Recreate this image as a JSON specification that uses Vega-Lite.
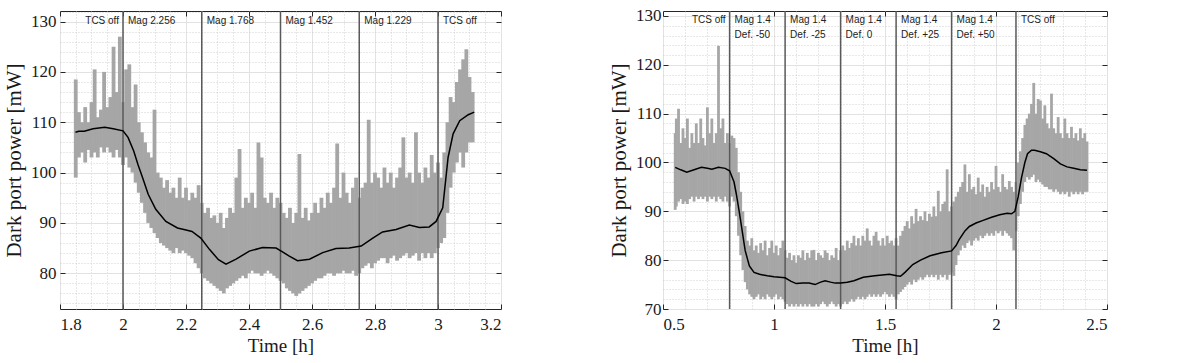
{
"$schema":"https://vega.github.io/schema/vega-lite/v6.json",
"padding":{"left":3,"top":6,"right":0,"bottom":0},
"background":"white",
"spacing":106,
"config":{"view":{"stroke":"#262626","strokeWidth":1},
"axis":{"domain":false,"labelFont":"Liberation Serif","labelFontSize":17,"labelColor":"#1a1a1a","titleFont":"Liberation Serif","titleFontSize":19,"titleFontWeight":"normal","titleColor":"#1a1a1a","tickColor":"#262626","format":".4~g"},
"text":{"font":"Liberation Sans","fontSize":10,"color":"#222"}},
"datasets":{
"Lg":[{"t":1.85,"lo":99,"hi":118.5},{"t":1.86,"lo":103,"hi":112},{"t":1.87,"lo":104,"hi":110},{"t":1.88,"lo":102,"hi":113},{"t":1.89,"lo":104.5,"hi":110},{"t":1.9,"lo":103,"hi":114},{"t":1.91,"lo":104,"hi":120.5},{"t":1.92,"lo":103,"hi":111},{"t":1.93,"lo":105,"hi":112.5},{"t":1.94,"lo":104,"hi":120},{"t":1.95,"lo":105,"hi":113},{"t":1.96,"lo":104,"hi":115},{"t":1.97,"lo":103,"hi":125},{"t":1.98,"lo":104.5,"hi":116},{"t":1.99,"lo":103,"hi":127},{"t":2.0,"lo":101.5,"hi":114},{"t":2.01,"lo":103,"hi":120.5},{"t":2.02,"lo":101,"hi":121.5},{"t":2.03,"lo":100,"hi":113},{"t":2.04,"lo":98,"hi":117.5},{"t":2.05,"lo":96,"hi":110},{"t":2.06,"lo":94,"hi":108},{"t":2.07,"lo":92,"hi":106},{"t":2.08,"lo":90,"hi":104},{"t":2.09,"lo":89,"hi":103},{"t":2.1,"lo":88,"hi":112.5},{"t":2.11,"lo":87,"hi":100},{"t":2.12,"lo":86,"hi":99},{"t":2.13,"lo":85.5,"hi":97},{"t":2.14,"lo":85,"hi":98.5},{"t":2.15,"lo":84.5,"hi":96},{"t":2.16,"lo":84,"hi":97},{"t":2.17,"lo":85,"hi":95},{"t":2.18,"lo":84,"hi":99},{"t":2.19,"lo":84.5,"hi":95},{"t":2.2,"lo":84,"hi":97},{"t":2.21,"lo":83.5,"hi":94.5},{"t":2.22,"lo":83,"hi":96},{"t":2.23,"lo":82,"hi":95},{"t":2.24,"lo":81,"hi":97.5},{"t":2.25,"lo":80,"hi":94},{"t":2.26,"lo":79,"hi":92},{"t":2.27,"lo":78.5,"hi":93},{"t":2.28,"lo":78,"hi":91},{"t":2.29,"lo":77.5,"hi":91.5},{"t":2.3,"lo":77,"hi":90},{"t":2.31,"lo":76.5,"hi":92},{"t":2.32,"lo":76,"hi":89},{"t":2.33,"lo":77,"hi":91},{"t":2.34,"lo":77.5,"hi":93},{"t":2.35,"lo":78,"hi":92},{"t":2.36,"lo":78.5,"hi":99},{"t":2.37,"lo":79,"hi":104.7},{"t":2.38,"lo":79.5,"hi":93},{"t":2.39,"lo":79,"hi":95},{"t":2.4,"lo":80,"hi":94},{"t":2.41,"lo":80.5,"hi":96},{"t":2.42,"lo":80,"hi":93},{"t":2.43,"lo":80,"hi":106},{"t":2.44,"lo":79.5,"hi":103},{"t":2.45,"lo":80,"hi":95},{"t":2.46,"lo":80.5,"hi":94},{"t":2.47,"lo":80,"hi":96},{"t":2.48,"lo":79.5,"hi":93},{"t":2.49,"lo":79,"hi":95},{"t":2.5,"lo":78.5,"hi":94},{"t":2.51,"lo":78,"hi":92},{"t":2.52,"lo":77,"hi":91},{"t":2.53,"lo":76.5,"hi":93},{"t":2.54,"lo":76,"hi":90},{"t":2.55,"lo":75.5,"hi":92},{"t":2.56,"lo":76,"hi":103.7},{"t":2.57,"lo":76.5,"hi":91},{"t":2.58,"lo":77,"hi":93},{"t":2.59,"lo":77.5,"hi":90.5},{"t":2.6,"lo":78,"hi":92},{"t":2.61,"lo":78.5,"hi":94},{"t":2.62,"lo":79,"hi":92},{"t":2.63,"lo":79,"hi":95},{"t":2.64,"lo":79.5,"hi":93},{"t":2.65,"lo":80,"hi":96},{"t":2.66,"lo":80,"hi":94},{"t":2.67,"lo":79.5,"hi":97},{"t":2.68,"lo":80,"hi":105.8},{"t":2.69,"lo":80,"hi":95},{"t":2.7,"lo":80.5,"hi":100},{"t":2.71,"lo":80,"hi":96},{"t":2.72,"lo":80,"hi":94},{"t":2.73,"lo":80.5,"hi":97},{"t":2.74,"lo":79.5,"hi":99},{"t":2.75,"lo":80,"hi":95},{"t":2.76,"lo":81,"hi":97},{"t":2.77,"lo":81.5,"hi":98},{"t":2.78,"lo":82,"hi":110.5},{"t":2.79,"lo":81,"hi":98},{"t":2.8,"lo":82,"hi":100},{"t":2.81,"lo":82.5,"hi":99},{"t":2.82,"lo":83,"hi":97},{"t":2.83,"lo":83,"hi":101},{"t":2.84,"lo":82,"hi":98},{"t":2.85,"lo":83,"hi":100},{"t":2.86,"lo":83.5,"hi":97},{"t":2.87,"lo":82.5,"hi":99},{"t":2.88,"lo":83,"hi":101},{"t":2.89,"lo":83.5,"hi":107},{"t":2.9,"lo":84,"hi":99},{"t":2.91,"lo":83,"hi":100},{"t":2.92,"lo":83.5,"hi":98},{"t":2.93,"lo":84,"hi":108},{"t":2.94,"lo":82.5,"hi":100},{"t":2.95,"lo":84,"hi":98},{"t":2.96,"lo":83,"hi":101},{"t":2.97,"lo":84,"hi":99},{"t":2.98,"lo":83,"hi":103.5},{"t":2.99,"lo":84,"hi":100},{"t":3.0,"lo":85,"hi":102},{"t":3.01,"lo":86,"hi":99},{"t":3.02,"lo":87,"hi":104},{"t":3.03,"lo":92,"hi":110},{"t":3.04,"lo":97,"hi":115},{"t":3.05,"lo":100,"hi":114},{"t":3.06,"lo":102,"hi":118},{"t":3.07,"lo":104,"hi":120.5},{"t":3.08,"lo":101,"hi":122.5},{"t":3.09,"lo":104,"hi":124.5},{"t":3.1,"lo":106,"hi":119},{"t":3.11,"lo":106,"hi":116}],
"Ls":[{"t":1.849,"p":108},{"t":1.86,"p":108.2},{"t":1.877,"p":108.2},{"t":1.905,"p":108.7},{"t":1.942,"p":109},{"t":1.969,"p":108.7},{"t":2.0,"p":108.3},{"t":2.016,"p":107},{"t":2.034,"p":104.3},{"t":2.048,"p":101.5},{"t":2.062,"p":99},{"t":2.08,"p":95.7},{"t":2.104,"p":92.7},{"t":2.136,"p":90.3},{"t":2.173,"p":89},{"t":2.2,"p":88.6},{"t":2.219,"p":88.3},{"t":2.247,"p":87},{"t":2.275,"p":84.7},{"t":2.303,"p":82.7},{"t":2.327,"p":81.8},{"t":2.359,"p":82.8},{"t":2.401,"p":84.4},{"t":2.443,"p":85.1},{"t":2.486,"p":85},{"t":2.505,"p":84.3},{"t":2.528,"p":83.4},{"t":2.554,"p":82.5},{"t":2.592,"p":82.8},{"t":2.634,"p":84.1},{"t":2.676,"p":84.9},{"t":2.718,"p":85},{"t":2.756,"p":85.4},{"t":2.793,"p":87},{"t":2.824,"p":88.2},{"t":2.867,"p":88.7},{"t":2.909,"p":89.6},{"t":2.941,"p":89.1},{"t":2.972,"p":89.2},{"t":2.994,"p":90.3},{"t":3.015,"p":93},{"t":3.032,"p":103},{"t":3.048,"p":107.7},{"t":3.069,"p":110.3},{"t":3.096,"p":111.5},{"t":3.115,"p":112}],
"Lv":[{"t":2},{"t":2.25},{"t":2.5},{"t":2.75},{"t":3}],
"Le":[{"t":2,"l":"TCS off","a":"r"},{"t":2,"l":"Mag 2.256","a":"l"},{"t":2.25,"l":"Mag 1.768","a":"l"},{"t":2.5,"l":"Mag 1.452","a":"l"},{"t":2.75,"l":"Mag 1.229","a":"l"},{"t":3,"l":"TCS off","a":"l"}],
"Rg":[{"t":0.555,"lo":90.3,"hi":106},{"t":0.56,"lo":91,"hi":109},{"t":0.57,"lo":92,"hi":111},{"t":0.58,"lo":92.5,"hi":104},{"t":0.59,"lo":91.5,"hi":107},{"t":0.6,"lo":92,"hi":105},{"t":0.61,"lo":91.5,"hi":109},{"t":0.62,"lo":92.5,"hi":103},{"t":0.63,"lo":93,"hi":106},{"t":0.64,"lo":92,"hi":104},{"t":0.65,"lo":93,"hi":108},{"t":0.66,"lo":92.5,"hi":104},{"t":0.67,"lo":93,"hi":109},{"t":0.68,"lo":92.5,"hi":105},{"t":0.69,"lo":93,"hi":103.5},{"t":0.7,"lo":92,"hi":111.3},{"t":0.71,"lo":93,"hi":106},{"t":0.72,"lo":92.5,"hi":109},{"t":0.73,"lo":93,"hi":104},{"t":0.74,"lo":92,"hi":106},{"t":0.75,"lo":93,"hi":123.9},{"t":0.76,"lo":92.5,"hi":107},{"t":0.77,"lo":92,"hi":109},{"t":0.78,"lo":93,"hi":104},{"t":0.79,"lo":92,"hi":106},{"t":0.8,"lo":91,"hi":104},{"t":0.81,"lo":93,"hi":105.5},{"t":0.82,"lo":92,"hi":105},{"t":0.83,"lo":89,"hi":103},{"t":0.84,"lo":85,"hi":98},{"t":0.85,"lo":81,"hi":94},{"t":0.86,"lo":78,"hi":90},{"t":0.87,"lo":75.5,"hi":87},{"t":0.88,"lo":74,"hi":84},{"t":0.89,"lo":73,"hi":83},{"t":0.9,"lo":72.5,"hi":84.5},{"t":0.91,"lo":72,"hi":82},{"t":0.92,"lo":72.5,"hi":83},{"t":0.93,"lo":73,"hi":81.5},{"t":0.94,"lo":72,"hi":83.5},{"t":0.95,"lo":72.5,"hi":82},{"t":0.96,"lo":72,"hi":84},{"t":0.97,"lo":73,"hi":81},{"t":0.98,"lo":72.5,"hi":82.5},{"t":0.99,"lo":72,"hi":84},{"t":1.0,"lo":72.5,"hi":81.5},{"t":1.01,"lo":73,"hi":83},{"t":1.02,"lo":72,"hi":81},{"t":1.03,"lo":72.5,"hi":82.5},{"t":1.04,"lo":72,"hi":84},{"t":1.05,"lo":71.5,"hi":82},{"t":1.06,"lo":71,"hi":80.5},{"t":1.07,"lo":70.5,"hi":81.5},{"t":1.08,"lo":71,"hi":80},{"t":1.09,"lo":70.5,"hi":81},{"t":1.1,"lo":71,"hi":79.5},{"t":1.11,"lo":70.5,"hi":81},{"t":1.12,"lo":71,"hi":80.5},{"t":1.13,"lo":70.5,"hi":82},{"t":1.14,"lo":71,"hi":80},{"t":1.15,"lo":70.5,"hi":81.5},{"t":1.16,"lo":71,"hi":80.5},{"t":1.17,"lo":70.5,"hi":82},{"t":1.18,"lo":70.5,"hi":82.1},{"t":1.19,"lo":71,"hi":80},{"t":1.2,"lo":70.5,"hi":81.5},{"t":1.21,"lo":71,"hi":81},{"t":1.22,"lo":71.5,"hi":80.5},{"t":1.23,"lo":71,"hi":82},{"t":1.24,"lo":70.5,"hi":81.5},{"t":1.25,"lo":71,"hi":80},{"t":1.26,"lo":71.5,"hi":81},{"t":1.27,"lo":71,"hi":80.5},{"t":1.28,"lo":70.5,"hi":82.5},{"t":1.29,"lo":71,"hi":80},{"t":1.3,"lo":70.5,"hi":82},{"t":1.31,"lo":71,"hi":83},{"t":1.32,"lo":71.5,"hi":82},{"t":1.33,"lo":71,"hi":84},{"t":1.34,"lo":71.5,"hi":82.5},{"t":1.35,"lo":72,"hi":83.5},{"t":1.36,"lo":71.5,"hi":85},{"t":1.37,"lo":72,"hi":83},{"t":1.38,"lo":72.5,"hi":84.5},{"t":1.39,"lo":72,"hi":83},{"t":1.4,"lo":72.5,"hi":85},{"t":1.41,"lo":72,"hi":84},{"t":1.42,"lo":72.5,"hi":86.5},{"t":1.43,"lo":73,"hi":84},{"t":1.44,"lo":72.5,"hi":83},{"t":1.45,"lo":73,"hi":85},{"t":1.46,"lo":72.5,"hi":85.8},{"t":1.47,"lo":73,"hi":84},{"t":1.48,"lo":72.5,"hi":83},{"t":1.49,"lo":73,"hi":84.5},{"t":1.5,"lo":73.5,"hi":83},{"t":1.51,"lo":73,"hi":85},{"t":1.52,"lo":72.5,"hi":83.5},{"t":1.53,"lo":73,"hi":84},{"t":1.54,"lo":72.5,"hi":83},{"t":1.55,"lo":72,"hi":84.5},{"t":1.56,"lo":73,"hi":83},{"t":1.57,"lo":73.5,"hi":85},{"t":1.58,"lo":74,"hi":86},{"t":1.59,"lo":74.5,"hi":87},{"t":1.6,"lo":75,"hi":88},{"t":1.61,"lo":75.5,"hi":86.5},{"t":1.62,"lo":75,"hi":89},{"t":1.63,"lo":76,"hi":87.5},{"t":1.64,"lo":75.5,"hi":90.5},{"t":1.65,"lo":76,"hi":88},{"t":1.66,"lo":76.5,"hi":89},{"t":1.67,"lo":76,"hi":88.2},{"t":1.68,"lo":76.5,"hi":90},{"t":1.69,"lo":77,"hi":88},{"t":1.7,"lo":76.5,"hi":89.5},{"t":1.71,"lo":77,"hi":88.9},{"t":1.72,"lo":76.5,"hi":91},{"t":1.73,"lo":77,"hi":89},{"t":1.74,"lo":76,"hi":94.2},{"t":1.75,"lo":77,"hi":90},{"t":1.76,"lo":76.5,"hi":91.5},{"t":1.77,"lo":77,"hi":92},{"t":1.78,"lo":76,"hi":98.6},{"t":1.79,"lo":77,"hi":90},{"t":1.8,"lo":77.5,"hi":91},{"t":1.81,"lo":76.8,"hi":92},{"t":1.82,"lo":79,"hi":93},{"t":1.83,"lo":81,"hi":94},{"t":1.84,"lo":82,"hi":95},{"t":1.85,"lo":83,"hi":96},{"t":1.86,"lo":82.5,"hi":99.6},{"t":1.87,"lo":83.5,"hi":94},{"t":1.88,"lo":84,"hi":97.6},{"t":1.89,"lo":83,"hi":94.5},{"t":1.9,"lo":84,"hi":95},{"t":1.91,"lo":84.5,"hi":93.5},{"t":1.92,"lo":84,"hi":96.9},{"t":1.93,"lo":85,"hi":94},{"t":1.94,"lo":84.5,"hi":95.5},{"t":1.95,"lo":85,"hi":93},{"t":1.96,"lo":85.5,"hi":95},{"t":1.97,"lo":85,"hi":94},{"t":1.98,"lo":85.5,"hi":96},{"t":1.99,"lo":85,"hi":94.5},{"t":2.0,"lo":86,"hi":99.3},{"t":2.01,"lo":85.5,"hi":95},{"t":2.02,"lo":86,"hi":94},{"t":2.03,"lo":85,"hi":97.6},{"t":2.04,"lo":86,"hi":95},{"t":2.05,"lo":85.5,"hi":94.5},{"t":2.06,"lo":85,"hi":96.2},{"t":2.07,"lo":84.5,"hi":95},{"t":2.08,"lo":82,"hi":94},{"t":2.09,"lo":86,"hi":96},{"t":2.1,"lo":89,"hi":100},{"t":2.11,"lo":91.5,"hi":102.3},{"t":2.12,"lo":94,"hi":105},{"t":2.13,"lo":96,"hi":107.7},{"t":2.14,"lo":97,"hi":109},{"t":2.15,"lo":96.5,"hi":110},{"t":2.16,"lo":97,"hi":112},{"t":2.17,"lo":97.5,"hi":116.3},{"t":2.18,"lo":96,"hi":110},{"t":2.19,"lo":96.5,"hi":113},{"t":2.2,"lo":96,"hi":112.7},{"t":2.21,"lo":95.5,"hi":109},{"t":2.22,"lo":95,"hi":111.7},{"t":2.23,"lo":95,"hi":108},{"t":2.24,"lo":94.5,"hi":107},{"t":2.25,"lo":94.5,"hi":114.1},{"t":2.26,"lo":94,"hi":107},{"t":2.27,"lo":94.5,"hi":106},{"t":2.28,"lo":94,"hi":109.3},{"t":2.29,"lo":93.5,"hi":106},{"t":2.3,"lo":94,"hi":105},{"t":2.31,"lo":93.5,"hi":109},{"t":2.32,"lo":94,"hi":106},{"t":2.33,"lo":93,"hi":105},{"t":2.34,"lo":94,"hi":107.3},{"t":2.35,"lo":93.5,"hi":105},{"t":2.36,"lo":94,"hi":106},{"t":2.37,"lo":93.5,"hi":104.5},{"t":2.38,"lo":94,"hi":107},{"t":2.39,"lo":93.5,"hi":105},{"t":2.4,"lo":94,"hi":106},{"t":2.41,"lo":94,"hi":104.3}],
"Rs":[{"t":0.555,"p":99},{"t":0.58,"p":98.5},{"t":0.607,"p":98},{"t":0.64,"p":98.5},{"t":0.673,"p":99},{"t":0.7,"p":98.8},{"t":0.72,"p":98.6},{"t":0.75,"p":99},{"t":0.78,"p":98.8},{"t":0.8,"p":98.3},{"t":0.82,"p":96},{"t":0.83,"p":93.6},{"t":0.845,"p":89.5},{"t":0.856,"p":86.2},{"t":0.87,"p":82},{"t":0.889,"p":78.8},{"t":0.91,"p":77.5},{"t":0.935,"p":77.1},{"t":0.97,"p":76.8},{"t":1.0,"p":76.6},{"t":1.05,"p":76.4},{"t":1.075,"p":75.7},{"t":1.1,"p":75.2},{"t":1.13,"p":75.3},{"t":1.158,"p":75.3},{"t":1.185,"p":75},{"t":1.21,"p":75.5},{"t":1.23,"p":75.8},{"t":1.255,"p":75.5},{"t":1.276,"p":75.3},{"t":1.3,"p":75.3},{"t":1.33,"p":75.5},{"t":1.36,"p":75.8},{"t":1.402,"p":76.5},{"t":1.454,"p":76.8},{"t":1.52,"p":77.1},{"t":1.553,"p":76.8},{"t":1.57,"p":76.7},{"t":1.59,"p":77.5},{"t":1.625,"p":79.1},{"t":1.66,"p":80},{"t":1.703,"p":80.9},{"t":1.755,"p":81.5},{"t":1.8,"p":81.9},{"t":1.82,"p":83},{"t":1.834,"p":84.2},{"t":1.86,"p":86},{"t":1.88,"p":86.9},{"t":1.91,"p":87.6},{"t":1.939,"p":88.1},{"t":1.98,"p":88.8},{"t":2.017,"p":89.3},{"t":2.05,"p":89.6},{"t":2.07,"p":89.5},{"t":2.085,"p":90},{"t":2.1,"p":93},{"t":2.115,"p":96.9},{"t":2.13,"p":100},{"t":2.142,"p":101.8},{"t":2.16,"p":102.5},{"t":2.174,"p":102.5},{"t":2.2,"p":102.2},{"t":2.227,"p":101.8},{"t":2.26,"p":100.8},{"t":2.29,"p":99.7},{"t":2.32,"p":99.1},{"t":2.35,"p":98.8},{"t":2.38,"p":98.5},{"t":2.41,"p":98.4}],
"Rv":[{"t":0.8},{"t":1.05},{"t":1.3},{"t":1.55},{"t":1.8},{"t":2.09}],
"Re":[{"t":0.8,"l":"TCS off","a":"r"},{"t":0.8,"l":["Mag 1.4","Def. -50"],"a":"l"},{"t":1.05,"l":["Mag 1.4","Def. -25"],"a":"l"},{"t":1.3,"l":["Mag 1.4","Def. 0"],"a":"l"},{"t":1.55,"l":["Mag 1.4","Def. +25"],"a":"l"},{"t":1.8,"l":["Mag 1.4","Def. +50"],"a":"l"},{"t":2.09,"l":"TCS off","a":"l"}]
},
"hconcat":[
{"width":441,"height":298,
"resolve":{"axis":{"x":"independent","y":"independent"}},
"layer":[
{"data":{"name":"Lg"},"mark":{"type":"rule","color":"#a6a6a6","strokeWidth":3.8},
"encoding":{"x":{"field":"t","type":"quantitative","scale":{"domain":[1.8,3.2],"nice":false,"zero":false},"axis":{"orient":"bottom","values":[1.85,1.9,1.95,2.05,2.1,2.15,2.25,2.3,2.35,2.45,2.5,2.55,2.65,2.7,2.75,2.85,2.9,2.95,3.05,3.1,3.15],"labels":false,"ticks":false,"grid":true,"gridColor":"#c4c4c4","gridDash":[1,2],"gridWidth":0.8,"title":null}},
"y":{"field":"lo","type":"quantitative","scale":{"domain":[72.9,132.1],"nice":false,"zero":false},"axis":{"orient":"left","values":[74,76,78,82,84,86,88,92,94,96,98,102,104,106,108,112,114,116,118,122,124,126,128,132],"labels":false,"ticks":false,"grid":true,"gridColor":"#c4c4c4","gridDash":[1,2],"gridWidth":0.8,"title":null}},
"y2":{"field":"hi"}}},
{"data":{"name":"Lv"},"mark":{"type":"rule","color":"#595959","strokeWidth":1.5},
"encoding":{"x":{"field":"t","type":"quantitative","scale":{"domain":[1.8,3.2],"nice":false,"zero":false},"axis":{"orient":"top","values":[1.8,2,2.2,2.4,2.6,2.8,3,3.2],"labels":false,"grid":false,"tickSize":-5,"title":null}}}},
{"data":{"name":"Ls"},"mark":{"type":"line","color":"#000000","strokeWidth":1.5},
"encoding":{"x":{"field":"t","type":"quantitative","scale":{"domain":[1.8,3.2],"nice":false,"zero":false},"axis":{"orient":"bottom","values":[1.8,2,2.2,2.4,2.6,2.8,3,3.2],"grid":true,"gridColor":"#e2e2e2","tickSize":-5,"labelPadding":12,"title":"Time [h]","titlePadding":4}},
"y":{"field":"p","type":"quantitative","scale":{"domain":[72.9,132.1],"nice":false,"zero":false},"axis":{"orient":"left","values":[80,90,100,110,120,130],"grid":true,"gridColor":"#e2e2e2","tickSize":-5,"labelPadding":9,"title":"Dark port power [mW]","titleFontSize":21,"titlePadding":6}}}},
{"data":{"name":"Le"},"transform":[{"filter":"datum.a=='l'"}],"mark":{"type":"text","align":"left","baseline":"middle","dx":5},
"encoding":{"x":{"field":"t","type":"quantitative","scale":{"domain":[1.8,3.2],"nice":false,"zero":false},"axis":null},
"y":{"datum":130.1,"type":"quantitative","scale":{"domain":[72.9,132.1],"nice":false,"zero":false},"axis":{"orient":"right","values":[80,90,100,110,120,130],"labels":false,"grid":false,"tickSize":-5,"title":null}},
"text":{"field":"l"}}},
{"data":{"name":"Le"},"transform":[{"filter":"datum.a=='r'"}],"mark":{"type":"text","align":"right","baseline":"middle","dx":-4},
"encoding":{"x":{"field":"t","type":"quantitative","scale":{"domain":[1.8,3.2],"nice":false,"zero":false},"axis":null},
"y":{"datum":130.1,"type":"quantitative","scale":{"domain":[72.9,132.1],"nice":false,"zero":false},"axis":null},
"text":{"field":"l"}}}
]},
{"width":444,"height":298,
"resolve":{"axis":{"x":"independent","y":"independent"}},
"layer":[
{"data":{"name":"Rg"},"mark":{"type":"rule","color":"#a6a6a6","strokeWidth":2.8},
"encoding":{"x":{"field":"t","type":"quantitative","scale":{"domain":[0.5,2.5],"nice":false,"zero":false},"axis":{"orient":"bottom","values":[0.6,0.7,0.8,0.9,1.1,1.2,1.3,1.4,1.6,1.7,1.8,1.9,2.1,2.2,2.3,2.4],"labels":false,"ticks":false,"grid":true,"gridColor":"#c4c4c4","gridDash":[1,2],"gridWidth":0.8,"title":null}},
"y":{"field":"lo","type":"quantitative","scale":{"domain":[70,131.02],"nice":false,"zero":false},"axis":{"orient":"left","values":[72,74,76,78,82,84,86,88,92,94,96,98,102,104,106,108,112,114,116,118,122,124,126,128],"labels":false,"ticks":false,"grid":true,"gridColor":"#c4c4c4","gridDash":[1,2],"gridWidth":0.8,"title":null}},
"y2":{"field":"hi"}}},
{"data":{"name":"Rv"},"mark":{"type":"rule","color":"#595959","strokeWidth":1.5},
"encoding":{"x":{"field":"t","type":"quantitative","scale":{"domain":[0.5,2.5],"nice":false,"zero":false},"axis":{"orient":"top","values":[0.5,1,1.5,2,2.5],"labels":false,"grid":false,"tickSize":-5,"title":null}}}},
{"data":{"name":"Rs"},"mark":{"type":"line","color":"#000000","strokeWidth":1.5},
"encoding":{"x":{"field":"t","type":"quantitative","scale":{"domain":[0.5,2.5],"nice":false,"zero":false},"axis":{"orient":"bottom","values":[0.5,1,1.5,2,2.5],"grid":true,"gridColor":"#e2e2e2","tickSize":-5,"labelPadding":12,"title":"Time [h]","titlePadding":4}},
"y":{"field":"p","type":"quantitative","scale":{"domain":[70,131.02],"nice":false,"zero":false},"axis":{"orient":"left","values":[70,80,90,100,110,120,130],"grid":true,"gridColor":"#e2e2e2","tickSize":-5,"labelPadding":7,"title":"Dark port power [mW]","titleFontSize":21,"titlePadding":6}}}},
{"data":{"name":"Re"},"transform":[{"filter":"datum.a=='l'"}],"mark":{"type":"text","align":"left","baseline":"top","dx":5,"dy":-1,"lineHeight":15},
"encoding":{"x":{"field":"t","type":"quantitative","scale":{"domain":[0.5,2.5],"nice":false,"zero":false},"axis":null},
"y":{"datum":130,"type":"quantitative","scale":{"domain":[70,131.02],"nice":false,"zero":false},"axis":{"orient":"right","values":[70,80,90,100,110,120,130],"labels":false,"grid":false,"tickSize":-5,"title":null}},
"text":{"field":"l"}}},
{"data":{"name":"Re"},"transform":[{"filter":"datum.a=='r'"}],"mark":{"type":"text","align":"right","baseline":"top","dx":-4,"dy":-1},
"encoding":{"x":{"field":"t","type":"quantitative","scale":{"domain":[0.5,2.5],"nice":false,"zero":false},"axis":null},
"y":{"datum":130,"type":"quantitative","scale":{"domain":[70,131.02],"nice":false,"zero":false},"axis":null},
"text":{"field":"l"}}}
]}
]
}
